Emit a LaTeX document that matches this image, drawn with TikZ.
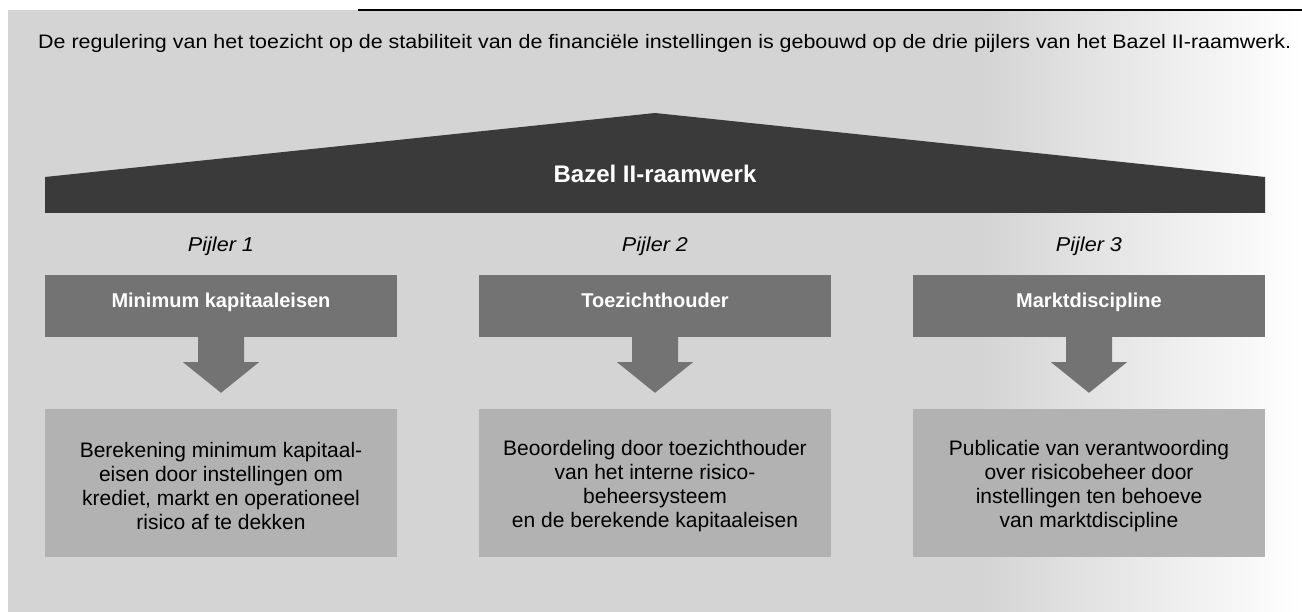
\documentclass[tikz,border=0pt]{standalone}
\usepackage{fontspec}
\setmainfont{Liberation Sans}
\newfontfamily\titlefont[FakeStretch=1.1]{Liberation Sans}
\newfontfamily\pilfont[FakeStretch=1.08]{Liberation Sans}
\usetikzlibrary{calc}
\definecolor{panelbg}{HTML}{D4D4D4}
\definecolor{roofc}{HTML}{3A3A3A}
\definecolor{headc}{HTML}{737373}
\definecolor{boxc}{HTML}{B2B2B2}
\begin{document}
\begin{tikzpicture}[x=1pt,y=-1pt,
  headbox/.style={fill=headc,draw=none,minimum width=352pt,minimum height=62pt,inner sep=0pt,text height=14pt,text depth=10pt,text=white,font=\fontsize{20}{22}\selectfont\bfseries},
  infobox/.style={fill=boxc,draw=none,minimum width=352pt,minimum height=148pt,inner sep=0pt},
  infotext/.style={align=center,inner sep=0pt,font=\fontsize{21}{24}\selectfont},
  pillabel/.style={anchor=base,inner sep=0pt,font=\pilfont\fontsize{20}{22}\selectfont\itshape},
  arrowfill/.style={fill=headc,draw=none}]
\useasboundingbox (0,0) rectangle (1302,612);
\fill[white] (0,0) rectangle (1302,612);
\fill[panelbg] (8,10) rectangle (1302,612);
\shade[left color=panelbg,right color=white,draw=none] (980,10) rectangle (1302,612);
\draw[line width=1.5pt] (358,10) -- (1302,10);
\node[anchor=base west,inner sep=0pt,font=\titlefont\fontsize{19.5}{22}\selectfont] (title) at (38,49) {De regulering van het toezicht op de stabiliteit van de financiële instellingen is gebouwd op de drie pijlers van het Bazel II-raamwerk.};
% roof
\fill[roofc] (45,213) -- (45,177) -- (655,113) -- (1265,177) -- (1265,213) -- cycle;
\node[text=white,inner sep=0pt,font=\fontsize{24}{26}\selectfont\bfseries,anchor=base] (roof) at (655,183) {Bazel II-raamwerk};
% pillar labels
\node[pillabel] (p1) at (221,252) {Pijler 1};
\node[pillabel] (p2) at (655,252) {Pijler 2};
\node[pillabel] (p3) at (1089,252) {Pijler 3};
% headers
\node[headbox] (h1) at (221,306) {Minimum kapitaaleisen};
\node[headbox] (h2) at (655,306) {Toezichthouder};
\node[headbox] (h3) at (1089,306) {Marktdiscipline};
% boxes
\node[infobox] (b1) at (221,483) {};
\node[infobox] (b2) at (655,483) {};
\node[infobox] (b3) at (1089,483) {};
\node[infotext] (t1) at ($(b1.center)+(0,3)$) {Berekening minimum kapitaal-\\eisen door instellingen om\\krediet, markt en operationeel\\risico af te dekken};
\node[infotext] (t2) at ($(b2.center)+(0,3)$) {Beoordeling door toezichthouder\\van het interne risico-\\beheersysteem\\en de berekende kapitaaleisen};
\node[infotext] (t3) at ($(b3.center)+(0,3)$) {Publicatie van verantwoording\\over risicobeheer door\\instellingen ten behoeve\\van marktdiscipline};
% arrows
\foreach \h/\b in {h1/b1,h2/b2,h3/b3}{
  \fill[arrowfill] ($(\h.south)+(-23,0)$) -- ($(\h.south)+(23,0)$) -- ($(\h.south)+(23,25)$) -- ($(\h.south)+(38,25)$) -- ($(\b.north)+(0,-16)$) -- ($(\h.south)+(-38,25)$) -- ($(\h.south)+(-23,25)$) -- cycle;
}
\end{tikzpicture}
\end{document}
